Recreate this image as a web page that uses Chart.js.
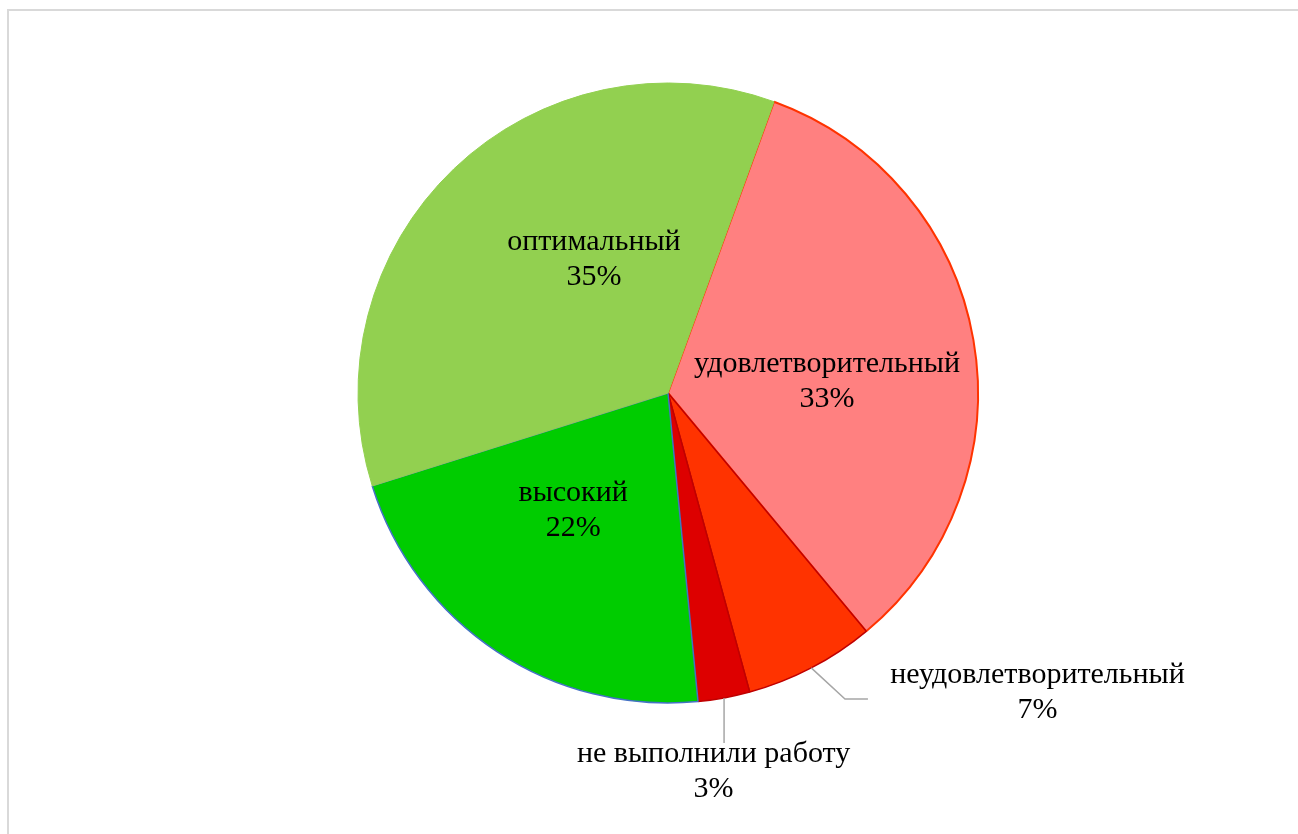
<!DOCTYPE html>
<html>
<head>
<meta charset="utf-8">
<script src="https://cdn.jsdelivr.net/npm/chart.js@4/dist/chart.umd.min.js"></script>
<style>
	html, body { margin: 0; padding: 0; background: #fff; overflow: hidden; }
	.frame { position: absolute; left: 7px; top: 9px; width: 1400px; height: 900px; border: 2px solid #d9d9d9; }
	#pie { position: absolute; left: 0; top: 0; }
</style>
</head>
<body>
<div class="frame"></div>
<canvas id="pie" width="1298" height="834"></canvas>
<script>
// Data (clockwise from the top)
const categories = ['удовлетворительный', 'неудовлетворительный', 'не выполнили работу', 'высокий', 'оптимальный'];
// slice sizes as measured on the picture; labels show them rounded
const shares = [33.4, 6.8, 2.7, 21.7, 35.4];

// slice colours
const fillColors = ['#FF8080', '#FF3300', '#DD0000', '#00CC00', '#92D050'];
const edgeColors = ['#FF3300', '#C00000', '#C00000', '#4472C4', '#92D050'];

// label anchors in radius units from the pie centre (baseline of first line)
const labelSpots = [
	{ x: 0.513, y: -0.068 },
	{ x: 1.192, y: 0.935, leader: [{ x: 0.571, y: 0.987 }, { x: 0.645, y: 0.987 }] },
	{ x: 0.147, y: 1.190, leader: [{ x: null, y: 1.129 }] },
	{ x: -0.306, y: 0.348 },
	{ x: -0.239, y: -0.461 }
];

// Draws the category name and percent, plus leader lines for the outside labels
const pieLabels = {
	id: 'pieLabels',
	afterDatasetsDraw(chart) {
		const ctx = chart.ctx;
		const arcs = chart.getDatasetMeta(0).data;
		ctx.save();
		ctx.font = '30px "Liberation Serif", "Times New Roman", serif';
		ctx.fillStyle = '#000';
		ctx.textAlign = 'center';
		ctx.textBaseline = 'alphabetic';
		for (let i = 0; i < arcs.length; i++) {
			const arc = arcs[i];
			const r = arc.outerRadius;
			const spot = labelSpots[i];
			if (spot.leader) {
				const mid = (arc.startAngle + arc.endAngle) / 2;
				const sx = arc.x + r * Math.cos(mid);
				const sy = arc.y + r * Math.sin(mid);
				ctx.beginPath();
				ctx.strokeStyle = '#A6A6A6';
				ctx.lineWidth = 1.5;
				ctx.moveTo(sx, sy);
				spot.leader.forEach((p) => {
					const px = p.x === null ? sx : arc.x + p.x * r;
					ctx.lineTo(px, arc.y + p.y * r);
				});
				ctx.stroke();
			}
			const lx = arc.x + spot.x * r;
			const ly = arc.y + spot.y * r;
			ctx.fillText(categories[i], lx, ly);
			ctx.fillText(Math.round(shares[i]) + '%', lx, ly + 35);
		}
		ctx.restore();
	}
};

new Chart(document.getElementById('pie'), {
	type: 'pie',
	data: {
		labels: categories,
		datasets: [{
			data: shares,
			backgroundColor: fillColors,
			borderColor: edgeColors,
			borderWidth: [2, 1.5, 1.5, 1.5, 1]
		}]
	},
	options: {
		responsive: false,
		animation: false,
		rotation: 20,
		layout: { padding: { left: 357, right: 319, top: 82, bottom: 130 } },
		plugins: {
			legend: { display: false },
			tooltip: { enabled: false }
		}
	},
	plugins: [pieLabels]
});
</script>
</body>
</html>
